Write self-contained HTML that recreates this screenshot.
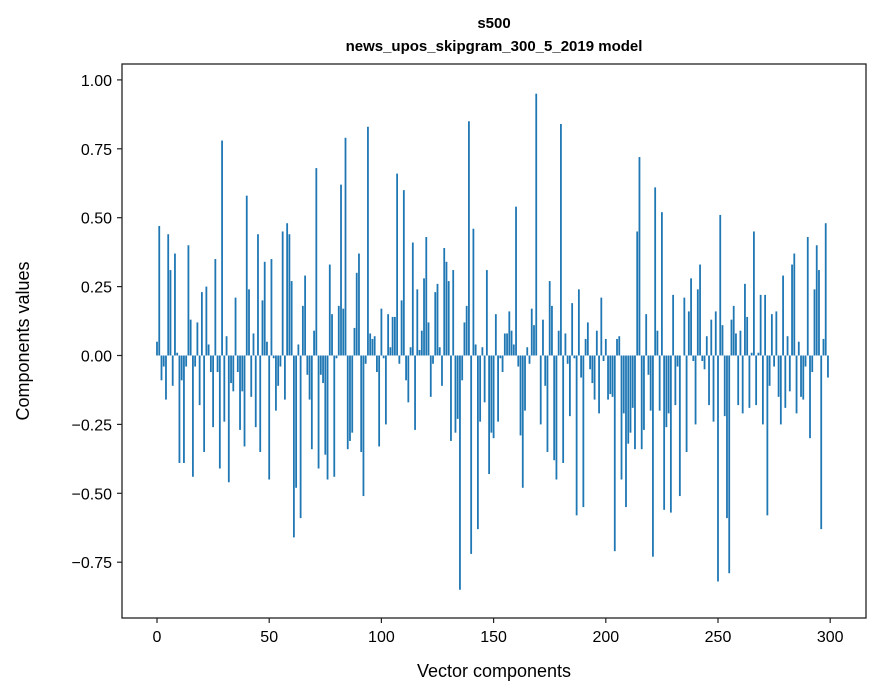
<!DOCTYPE html>
<html><head><meta charset="utf-8"><style>
body{margin:0;background:#fff;}
svg{display:block;font-family:"Liberation Sans","DejaVu Sans",sans-serif;}
</style></head><body>
<svg id="chart" width="880" height="696" viewBox="0 0 880 696" xmlns="http://www.w3.org/2000/svg">
<rect width="880" height="696" fill="#fff"/>
<text x="494" y="28" text-anchor="middle" font-size="15" font-weight="bold">s500</text>
<text x="494" y="51" text-anchor="middle" font-size="15" font-weight="bold">news_upos_skipgram_300_5_2019 model</text>
<g id="bars"></g>
<g id="axes"></g>
<rect x="122" y="64" width="744" height="554" fill="none" stroke="#222" stroke-width="1.3"/>
<text x="494" y="677" text-anchor="middle" font-size="18">Vector components</text>
<text transform="translate(29,341) rotate(-90)" text-anchor="middle" font-size="18">Components values</text>
</svg>
<script>
const values = [
0.05,0.47,-0.09,-0.04,-0.16,0.44,0.31,-0.11,0.37,0.01,-0.39,-0.09,-0.39,-0.04,0.40,0.13,-0.44,-0.04,0.12,-0.18,
0.23,-0.35,0.25,0.04,-0.06,-0.26,0.35,-0.06,-0.41,0.78,-0.24,0.07,-0.46,-0.10,-0.13,0.21,-0.06,-0.27,-0.13,-0.33,
0.58,0.24,-0.15,0.08,-0.26,0.44,-0.35,0.20,0.34,0.05,-0.45,
0.35,-0.01,-0.20,-0.11,-0.04,0.45,-0.16,0.48,0.44,0.27,-0.66,-0.48,0.04,-0.59,0.18,0.29,-0.07,-0.16,-0.34,0.09,
0.68,-0.41,-0.07,-0.10,-0.36,-0.45,0.33,0.15,-0.44,-0.01,0.18,0.62,0.17,0.79,-0.34,-0.31,-0.28,0.10,0.30,0.37,
-0.35,-0.51,-0.03,0.83,0.08,0.06,0.07,-0.06,-0.33,0.17,-0.01,
-0.25,0.15,0.03,0.14,0.14,0.66,-0.03,0.20,0.60,-0.09,-0.17,0.03,0.41,-0.27,0.24,0.02,0.09,0.28,0.43,0.12,
-0.15,-0.03,0.23,0.26,0.03,-0.11,0.39,0.34,0.27,-0.31,0.31,-0.28,-0.23,-0.85,-0.09,0.12,0.18,0.85,-0.72,0.46,
0.04,-0.63,-0.24,0.03,-0.17,0.31,-0.43,-0.28,-0.30,0.15,
-0.24,-0.01,-0.06,0.08,0.08,0.16,0.09,0.04,0.54,-0.04,-0.29,-0.48,-0.20,0.03,-0.03,0.17,0.11,0.95,0,-0.25,
0.13,-0.11,-0.35,0.27,0.18,-0.38,-0.45,0.09,0.84,-0.39,0.08,-0.03,-0.22,0.19,-0.01,-0.58,0.24,-0.08,-0.55,0.06,
0.12,-0.05,-0.10,-0.16,0.09,-0.21,0.21,-0.02,0.06,-0.16,
-0.14,-0.15,-0.71,0.06,0.07,-0.45,-0.21,-0.55,-0.32,-0.28,-0.19,-0.34,0.45,0.72,-0.34,-0.27,0.15,-0.07,-0.20,-0.73,
0.61,0.09,-0.20,0.52,-0.56,-0.26,-0.21,-0.57,0.22,-0.18,-0.04,-0.51,0.00,0.21,-0.35,0.16,0.28,-0.02,-0.25,0.24,
0.33,-0.02,-0.05,0.07,-0.18,0.13,-0.24,0.16,-0.82,0.51,
0.11,-0.22,-0.59,-0.79,0.13,0.18,0.08,-0.18,0.09,-0.21,0.26,0.14,-0.19,0.01,0.45,-0.18,0.01,0.22,-0.25,0.22,
-0.58,-0.11,0.15,-0.04,0.16,-0.15,-0.25,0.29,-0.19,0.07,-0.13,0.33,0.37,-0.21,0.05,-0.15,-0.16,-0.04,0.43,-0.30,
-0.06,0.24,0.40,0.31,-0.63,0.06,0.48,-0.08
];
const xTicks = [0,50,100,150,200,250,300];
const yTicks = [-0.75,-0.5,-0.25,0,0.25,0.5,0.75,1.0];
const yTickLabels = ["\u22120.75","\u22120.50","\u22120.25","0.00","0.25","0.50","0.75","1.00"];

const NS = "http://www.w3.org/2000/svg";
const xScale = v => 157 + 2.244 * v;
const yScale = v => 355.5 - 275.6 * v;
const barsG = document.getElementById('bars');
const axesG = document.getElementById('axes');
values.forEach((v, i) => {
  const r = document.createElementNS(NS, 'rect');
  const w = 0.8 * 2.244;
  const y0 = yScale(0), y1 = yScale(v);
  r.setAttribute('x', xScale(i) - w / 2);
  r.setAttribute('y', Math.min(y0, y1));
  r.setAttribute('width', w);
  r.setAttribute('height', Math.max(Math.abs(y1 - y0), 0.01));
  r.setAttribute('fill', '#1f77b4');
  
  
  barsG.appendChild(r);
});
xTicks.forEach(t => {
  const x = xScale(t);
  const l = document.createElementNS(NS, 'line');
  l.setAttribute('x1', x); l.setAttribute('x2', x);
  l.setAttribute('y1', 618); l.setAttribute('y2', 623);
  l.setAttribute('stroke', '#222'); l.setAttribute('stroke-width', '1.2');
  
  
  axesG.appendChild(l);
  const tx = document.createElementNS(NS, 'text');
  tx.setAttribute('x', x); tx.setAttribute('y', 642);
  tx.setAttribute('text-anchor', 'middle'); tx.setAttribute('font-size', '16');
  tx.textContent = String(t);
  
  
  axesG.appendChild(tx);
});
yTicks.forEach((t, i) => {
  const y = yScale(t);
  const l = document.createElementNS(NS, 'line');
  l.setAttribute('x1', 117); l.setAttribute('x2', 122);
  l.setAttribute('y1', y); l.setAttribute('y2', y);
  l.setAttribute('stroke', '#222'); l.setAttribute('stroke-width', '1.2');
  
  
  axesG.appendChild(l);
  const tx = document.createElementNS(NS, 'text');
  tx.setAttribute('x', 112); tx.setAttribute('y', y + 6);
  tx.setAttribute('text-anchor', 'end'); tx.setAttribute('font-size', '16');
  tx.textContent = yTickLabels[i];
  
  
  axesG.appendChild(tx);
});
</script>
</body></html>
